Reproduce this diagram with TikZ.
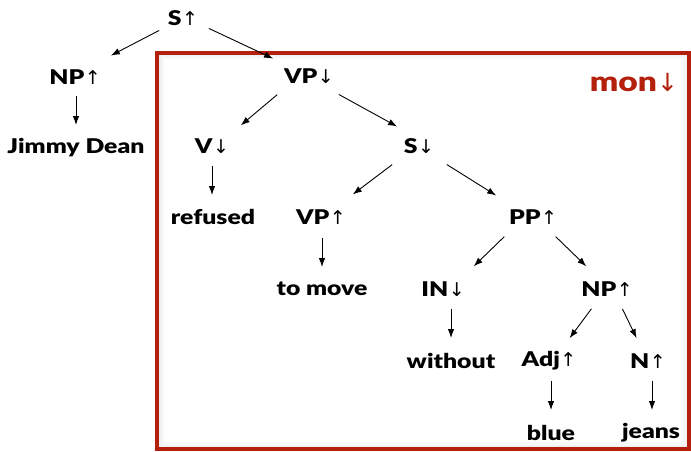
\documentclass[tikz,border=0pt]{standalone}
\usepackage{fontspec}
\setmainfont{Lato Black}[FakeStretch=1.22]
\newfontfamily\arr{DejaVu Sans}
\usetikzlibrary{arrows.meta}
\definecolor{monred}{RGB}{180,32,12}
\newcommand{\UP}{\kern0.5pt{\arr\fontsize{19}{19}\selectfont ↑}}
\newcommand{\DN}{\kern0.5pt{\arr\fontsize{19}{19}\selectfont ↓}}
\begin{document}
\begin{tikzpicture}[x=1pt,y=-1pt,
  lbl/.style={font=\fontsize{20.3}{21}\selectfont, inner sep=1pt},
  edge/.style={-{Latex[length=9pt,width=6.5pt]}, line width=0.9pt, shorten >=1pt, shorten <=1pt}]
\useasboundingbox (0,0) rectangle (691,452);
% box with inner shadow
\foreach \i/\o in {1/0.10,2/0.08,3/0.06,4/0.045,5/0.03,6/0.02,7/0.01}{
  \draw[black, opacity=\o, line width=1pt] (157+\i,53+\i) rectangle (689-\i,449-\i);
}
\draw[monred, line width=3.5pt] (157,53) rectangle (689,449);
\node[font=\fontsize{27.5}{28}\selectfont, text=monred, inner sep=0pt] (mon) at (634,82) {mon{\arr\fontsize{25}{25}\selectfont ↓}};
% nodes
\node[lbl] (S) at (183,18) {S\UP};
\node[lbl] (NP) at (75,77) {NP\UP};
\node[lbl] (JD) at (76,148) {Jimmy Dean};
\node[lbl] (VP) at (309,76) {VP\DN};
\node[lbl] (V) at (212,146) {V\DN};
\node[lbl] (ref) at (213,217) {refused};
\node[lbl] (S2) at (419,146) {S\DN};
\node[lbl] (VP2) at (321,217) {VP\UP};
\node[lbl] (tm) at (322,289) {to move};
\node[lbl] (PP) at (533,217) {PP\UP};
\node[lbl] (IN) at (443,289) {IN\DN};
\node[lbl] (NP2) at (607,289) {NP\UP};
\node[lbl] (wo) at (451,361) {without};
\node[lbl] (Adj) at (549,361) {Adj\UP};
\node[lbl] (N) at (648,361) {N\UP};
\node[lbl] (bl) at (551,433) {blue};
\node[lbl] (je) at (651,433) {jeans};
% edge endpoints
\coordinate (a1) at (160,30); \coordinate (a2) at (110,56);
\coordinate (b1) at (208,28); \coordinate (b2) at (274,59);
\coordinate (c1) at (76,95); \coordinate (c2) at (76,126);
\coordinate (d1) at (278,94); \coordinate (d2) at (240,126);
\coordinate (e1) at (338,94); \coordinate (e2) at (398,127);
\coordinate (f1) at (212,165); \coordinate (f2) at (212,196);
\coordinate (g1) at (393,164); \coordinate (g2) at (352,195);
\coordinate (h1) at (446,164); \coordinate (h2) at (497,196);
\coordinate (i1) at (322,237); \coordinate (i2) at (322,268);
\coordinate (j1) at (505,236); \coordinate (j2) at (473,267);
\coordinate (k1) at (555,236); \coordinate (k2) at (587,267);
\coordinate (l1) at (451,308); \coordinate (l2) at (451,339);
\coordinate (m1) at (592,308); \coordinate (m2) at (569,339);
\coordinate (n1) at (622,308); \coordinate (n2) at (637,339);
\coordinate (o1) at (551,380); \coordinate (o2) at (551,411);
\coordinate (p1) at (652,380); \coordinate (p2) at (652,411);
\foreach \u in {a,b,c,d,e,f,g,h,i,j,k,l,m,n,o,p}{
  \draw[edge] (\u1) -- (\u2);
}
\end{tikzpicture}
\end{document}
